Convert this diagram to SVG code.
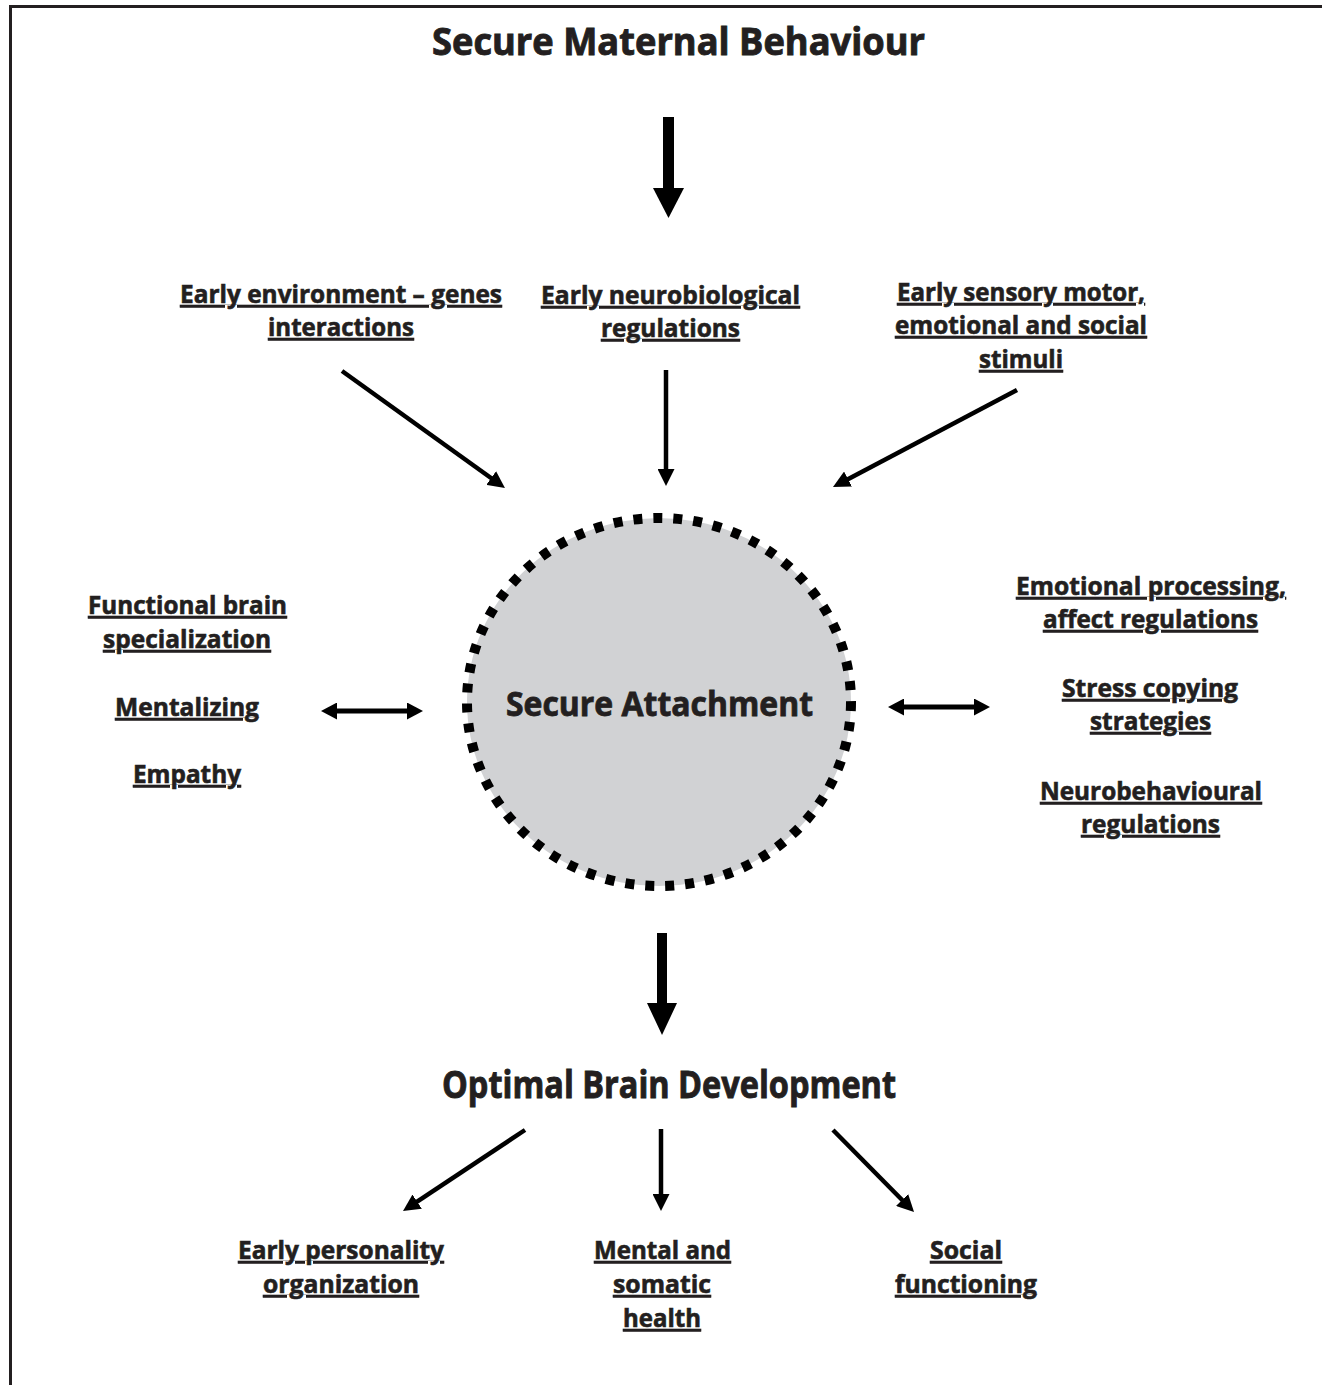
<svg xmlns="http://www.w3.org/2000/svg" width="1322" height="1385" viewBox="0 0 1322 1385">
<style>
  text { font-family: "Open Sans", "Liberation Sans", sans-serif; font-weight: 700; fill: #231f20; stroke: #231f20; text-anchor: middle; }
  .lbl { font-size: 24.5px; text-decoration: underline; stroke-width: 0.6; }
  .title { font-size: 37px; stroke-width: 0.9; }
  .sub { font-size: 34px; stroke-width: 0.8; }
  .conn { stroke: #000; stroke-width: 4.5; fill: none; }
  .dbl { stroke: #000; stroke-width: 5; fill: none; }
</style>
<defs>
  <marker id="ah" markerUnits="userSpaceOnUse" markerWidth="17" markerHeight="17" viewBox="0 0 17 17" refX="5" refY="8.5" orient="auto">
    <path d="M0,0 L17,8.5 L0,17 z" fill="#000"/>
  </marker>
  <marker id="ah2" markerUnits="userSpaceOnUse" markerWidth="16" markerHeight="17" viewBox="0 0 16 17" refX="5" refY="8.5" orient="auto-start-reverse">
    <path d="M0,0 L16,8.5 L0,17 z" fill="#000"/>
  </marker>
</defs>
<rect x="10.5" y="6.5" width="1400" height="1500" fill="none" stroke="#231f20" stroke-width="3"/>

<g id="title"><text class="title" x="678.5" y="55" textLength="493" lengthAdjust="spacingAndGlyphs">Secure Maternal Behaviour</text></g>

<g id="secure-attachment">
  <ellipse cx="659" cy="702" rx="192" ry="184" fill="#d1d2d4" stroke="#000" stroke-width="10" stroke-dasharray="9 11"/>
  <text class="sub" x="659.5" y="716" textLength="307" lengthAdjust="spacingAndGlyphs">Secure Attachment</text>
</g>

<g id="optimal"><text class="title" x="669" y="1098" textLength="454" lengthAdjust="spacingAndGlyphs">Optimal Brain Development</text></g>

<g id="n-env">
  <text class="lbl" x="341" y="303" textLength="322" lengthAdjust="spacingAndGlyphs">Early environment – genes</text>
  <text class="lbl" x="341" y="336" textLength="146" lengthAdjust="spacingAndGlyphs">interactions</text>
</g>
<g id="n-neuro">
  <text class="lbl" x="670.5" y="304" textLength="259" lengthAdjust="spacingAndGlyphs">Early neurobiological</text>
  <text class="lbl" x="670.5" y="337" textLength="139" lengthAdjust="spacingAndGlyphs">regulations</text>
</g>
<g id="n-sensory">
  <text class="lbl" x="1021" y="301" textLength="248" lengthAdjust="spacingAndGlyphs">Early sensory motor,</text>
  <text class="lbl" x="1021" y="334" textLength="252" lengthAdjust="spacingAndGlyphs">emotional and social</text>
  <text class="lbl" x="1021" y="368" textLength="84" lengthAdjust="spacingAndGlyphs">stimuli</text>
</g>
<g id="n-left">
  <text class="lbl" x="187.5" y="614" textLength="199" lengthAdjust="spacingAndGlyphs">Functional brain</text>
  <text class="lbl" x="187" y="648" textLength="168" lengthAdjust="spacingAndGlyphs">specialization</text>
  <text class="lbl" x="187" y="716" textLength="144" lengthAdjust="spacingAndGlyphs">Mentalizing</text>
  <text class="lbl" x="187" y="783" textLength="108" lengthAdjust="spacingAndGlyphs">Empathy</text>
</g>
<g id="n-right">
  <text class="lbl" x="1151" y="595" textLength="270" lengthAdjust="spacingAndGlyphs">Emotional processing,</text>
  <text class="lbl" x="1150.5" y="628" textLength="215" lengthAdjust="spacingAndGlyphs">affect regulations</text>
  <text class="lbl" x="1150" y="697" textLength="176" lengthAdjust="spacingAndGlyphs">Stress copying</text>
  <text class="lbl" x="1150.5" y="730" textLength="121" lengthAdjust="spacingAndGlyphs">strategies</text>
  <text class="lbl" x="1151" y="800" textLength="222" lengthAdjust="spacingAndGlyphs">Neurobehavioural</text>
  <text class="lbl" x="1150.5" y="833" textLength="139" lengthAdjust="spacingAndGlyphs">regulations</text>
</g>
<g id="n-personality">
  <text class="lbl" x="341" y="1259" textLength="206" lengthAdjust="spacingAndGlyphs">Early personality</text>
  <text class="lbl" x="341" y="1293" textLength="156" lengthAdjust="spacingAndGlyphs">organization</text>
</g>
<g id="n-health">
  <text class="lbl" x="662.5" y="1259" textLength="137" lengthAdjust="spacingAndGlyphs">Mental and</text>
  <text class="lbl" x="662" y="1293" textLength="98" lengthAdjust="spacingAndGlyphs">somatic</text>
  <text class="lbl" x="662" y="1327" textLength="78" lengthAdjust="spacingAndGlyphs">health</text>
</g>
<g id="n-social">
  <text class="lbl" x="966" y="1259" textLength="72" lengthAdjust="spacingAndGlyphs">Social</text>
  <text class="lbl" x="966" y="1293" textLength="142" lengthAdjust="spacingAndGlyphs">functioning</text>
</g>

<g id="connectors">
  <rect x="663" y="117" width="11" height="72" fill="#000"/>
  <polygon points="653,188 684,188 668.5,218" fill="#000"/>
  <rect x="657" y="933" width="10" height="71" fill="#000"/>
  <polygon points="647,1003 677,1003 662,1035" fill="#000"/>

  <line class="conn" x1="342" y1="371" x2="495.2" y2="481" marker-end="url(#ah)"/>
  <line class="conn" x1="666" y1="370" x2="666" y2="474" marker-end="url(#ah)"/>
  <line class="conn" x1="1017" y1="390" x2="843.6" y2="481.4" marker-end="url(#ah)"/>
  <line class="conn" x1="525" y1="1130" x2="413" y2="1204.4" marker-end="url(#ah)"/>
  <line class="conn" x1="661" y1="1129" x2="661" y2="1199" marker-end="url(#ah)"/>
  <line class="conn" x1="833" y1="1130" x2="905.6" y2="1203.5" marker-end="url(#ah)"/>

  <line class="dbl" x1="332" y1="711" x2="412" y2="711" marker-start="url(#ah2)" marker-end="url(#ah2)"/>
  <line class="dbl" x1="899" y1="707" x2="979" y2="707" marker-start="url(#ah2)" marker-end="url(#ah2)"/>
</g>
</svg>
